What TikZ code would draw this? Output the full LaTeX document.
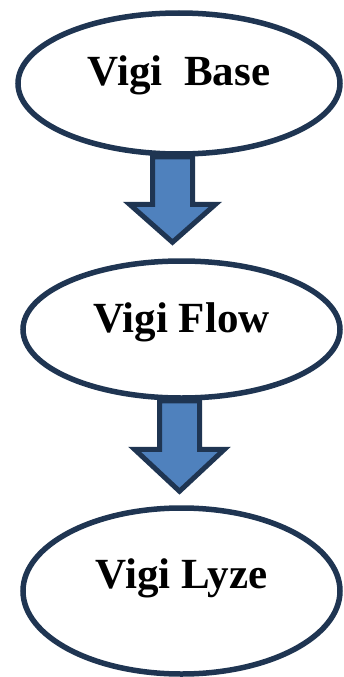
\documentclass[tikz,border=0pt]{standalone}
\usepackage{fontspec}
\setmainfont{Liberation Serif}
\usepackage{xcolor}
\definecolor{darknavy}{HTML}{1F3552}
\definecolor{arrowblue}{HTML}{4F81BD}
\usetikzlibrary{calc,shapes.geometric}

\begin{document}
\begin{tikzpicture}[
  x=1pt, y=-1pt,
  font=\fontsize{43}{45}\selectfont\bfseries,
  phase/.style={draw=darknavy, ellipse, line width=5.5pt, fill=white,
                inner sep=0pt, text height=30pt, text depth=26pt},
  blockarr/.style={draw=darknavy, fill=arrowblue, line width=5pt,
                   line join=miter}
]
\useasboundingbox (0,0) rectangle (343,677);
\node[phase, minimum width=322pt, minimum height=141pt, text depth=27pt] (base) at (179,83.5) {Vigi\ \ Base};
\node[phase, minimum width=317pt, minimum height=137pt, text depth=25pt] (flow) at (181.5,329.5) {Vigi Flow};
\node[phase, minimum width=317pt, minimum height=166pt, text depth=36pt] (lyze) at (181.5,591) {Vigi Lyze};

% block arrows between the phases
\coordinate (tipA) at ($(flow.north)+(-9,-16)$);
\coordinate (topA) at (base.south -| tipA);
\draw[blockarr] ($(topA)+(-20,0)$) |- ($(tipA)+(-43,-38)$) -- (tipA)
  -- ($(tipA)+(43,-38)$) -| ($(topA)+(20,0)$) -- cycle;
\coordinate (tipB) at ($(lyze.north)+(-2,-14)$);
\coordinate (topB) at (flow.south -| tipB);
\draw[blockarr] ($(topB)+(-20,0)$) |- ($(tipB)+(-45,-42)$) -- (tipB)
  -- ($(tipB)+(45,-42)$) -| ($(topB)+(20,0)$) -- cycle;
\end{tikzpicture}
\end{document}
